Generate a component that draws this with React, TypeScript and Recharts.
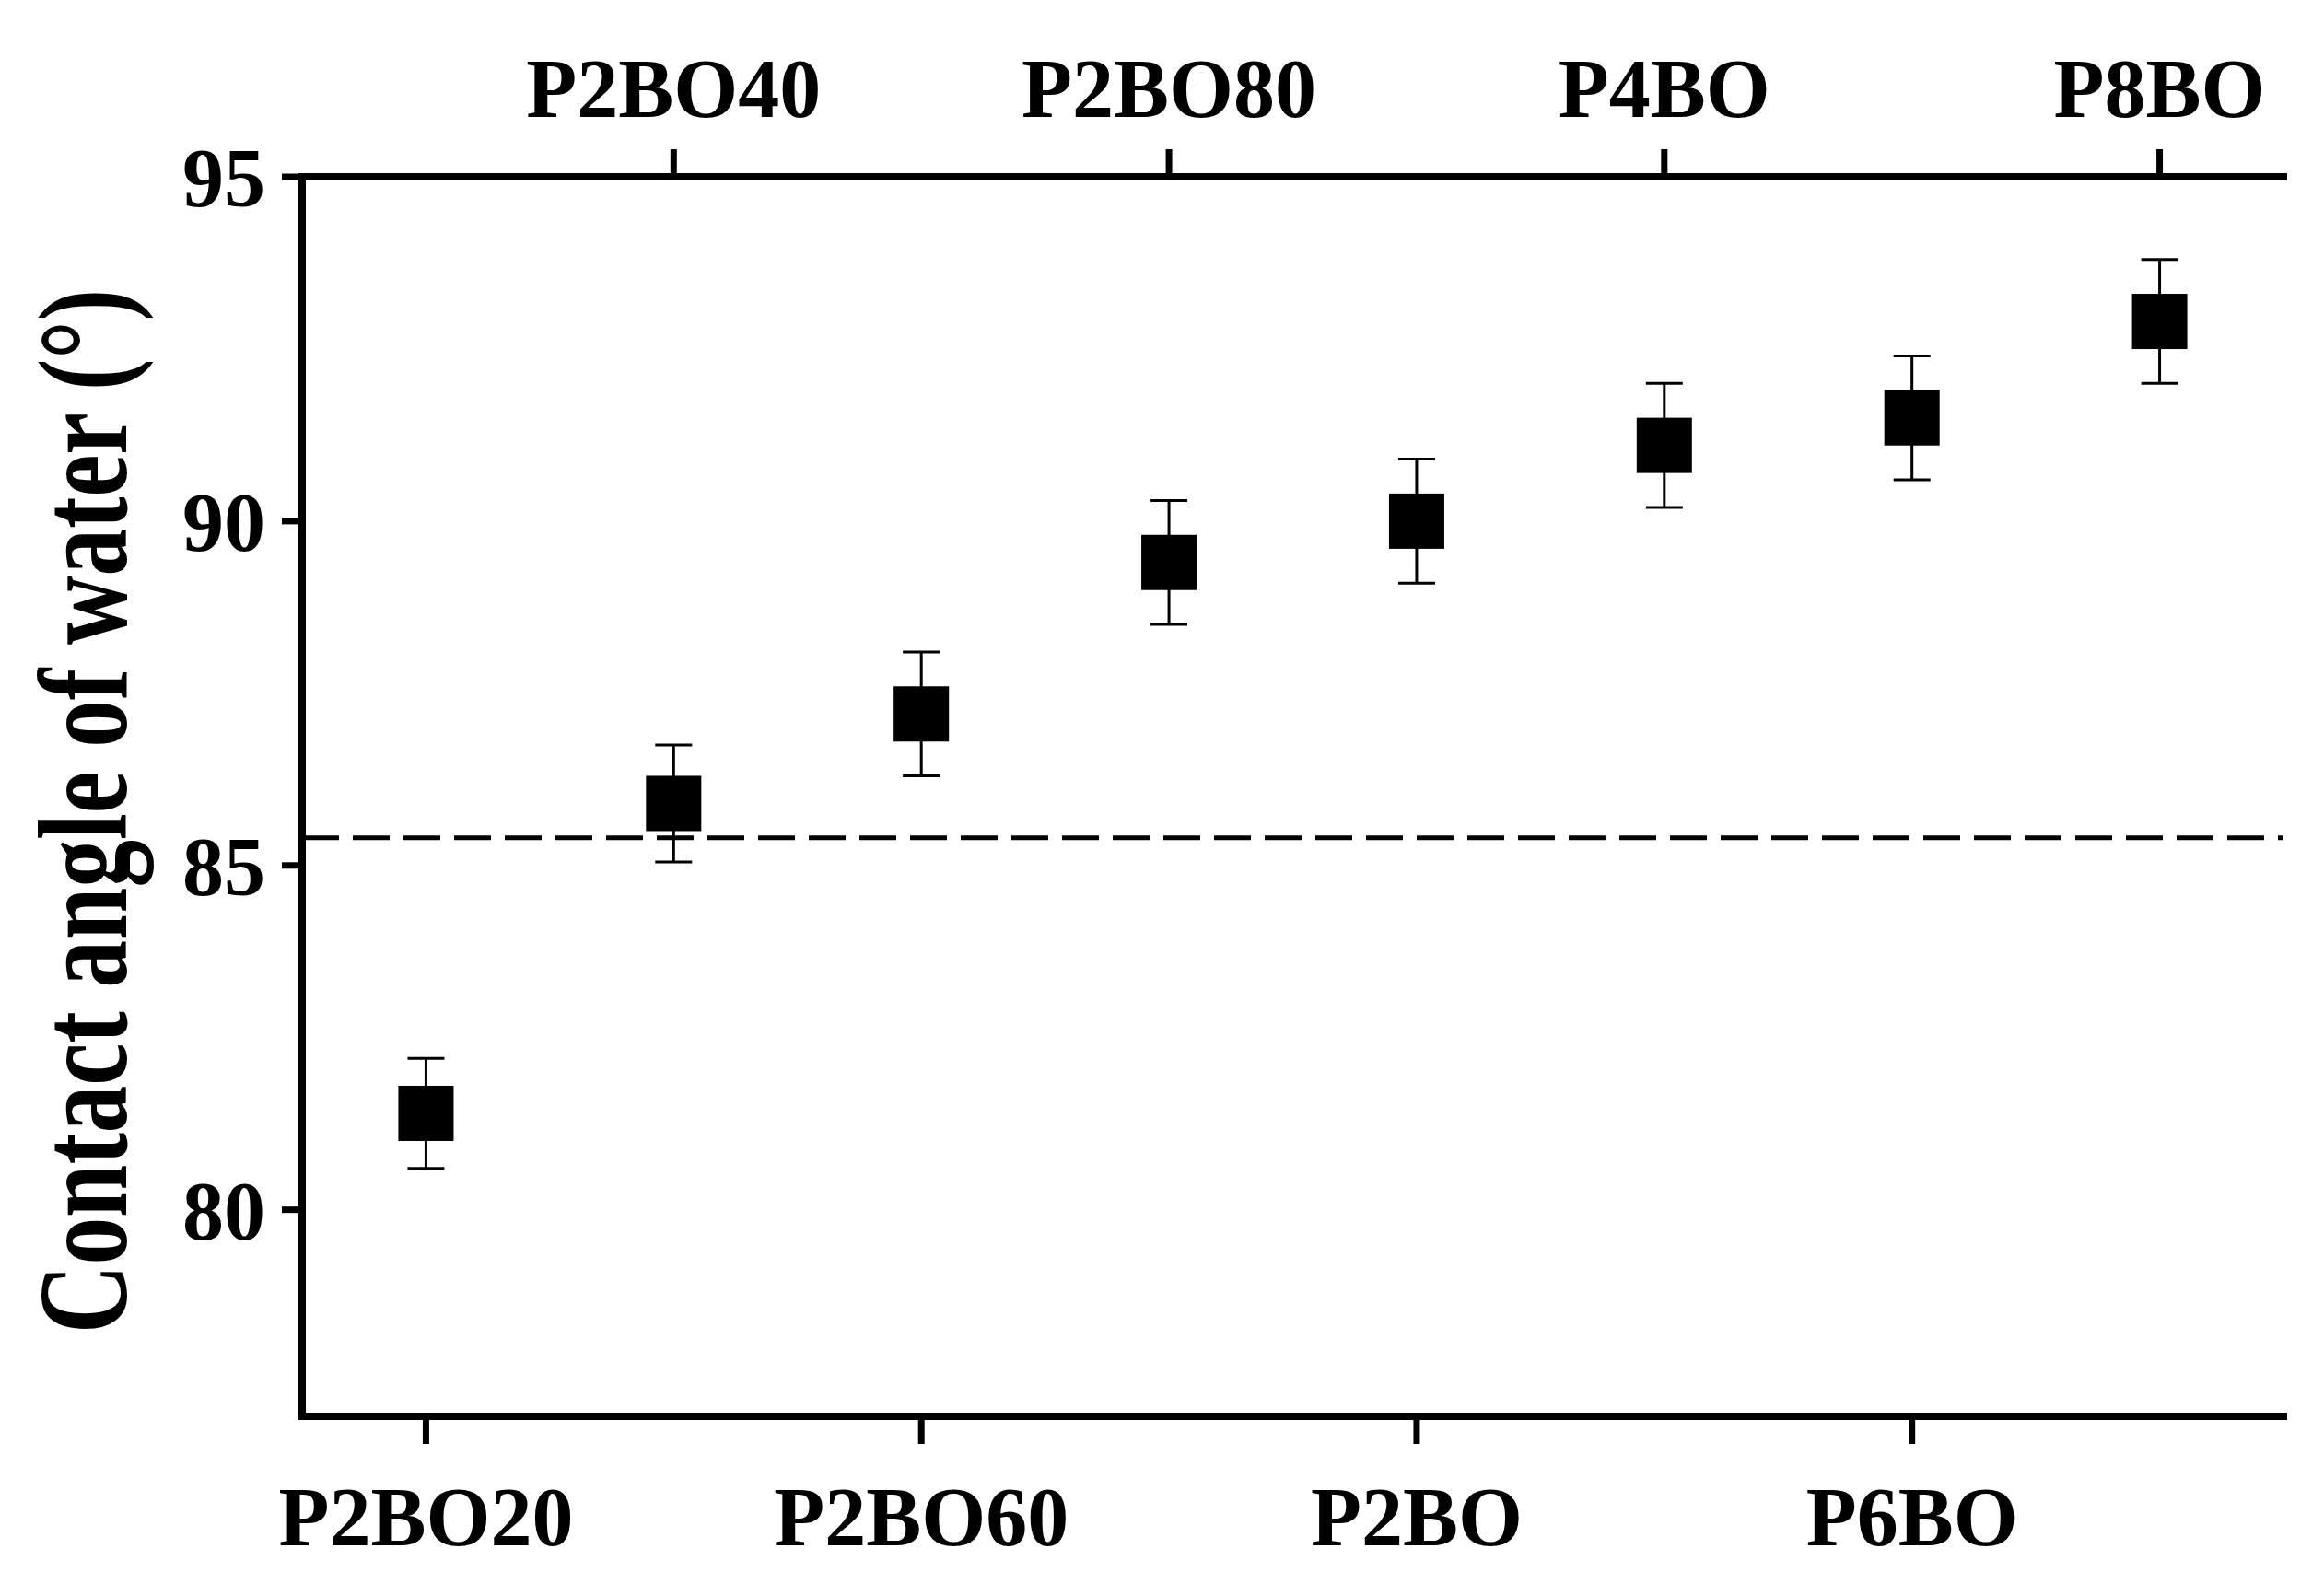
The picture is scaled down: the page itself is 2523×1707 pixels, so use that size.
import React from 'react';
import { ComposedChart, Scatter, XAxis, YAxis, ErrorBar, ReferenceLine } from 'recharts';

const samples = ['P2BO20', 'P2BO40', 'P2BO60', 'P2BO80', 'P2BO', 'P4BO', 'P6BO', 'P8BO'];
const contactAngle = [81.4, 85.9, 87.2, 89.4, 90.0, 91.1, 91.5, 92.9];
const angleError = [0.8, 0.85, 0.9, 0.9, 0.9, 0.9, 0.9, 0.9];
const yTicks = [80, 85, 90, 95];
const baseline = 85.4;

const data = samples.map((name, i) => ({
    pos: i + 1,
    name,
    value: contactAngle[i],
    err: angleError[i],
}));

const bottomTicks = data.filter((d) => d.pos % 2 === 1).map((d) => d.pos);
const topTicks = data.filter((d) => d.pos % 2 === 0).map((d) => d.pos);

const font = 'Liberation Serif, Times New Roman, serif';
const tickStyle = { fontSize: 90, fontWeight: 700, fontFamily: font, fill: '#000' };
const axisLine = { stroke: '#000', strokeWidth: 8, strokeLinecap: 'square' as const };
const tickLine = { stroke: '#000', strokeWidth: 7 };

const nameOf = (v: number) => samples[v - 1] ?? '';

const SquareMarker = (props: any) => {
    const { cx, cy } = props;
    if (cx == null || cy == null) return null;
    return <rect x={cx - 30} y={cy - 30} width={60} height={60} fill="#000" />;
};

const YLabel = () => (
    <text
        x={0}
        y={0}
        transform="translate(137, 881) rotate(-90)"
        textAnchor="middle"
        fontFamily={font}
        fontWeight={700}
        fontSize={138}
        textLength={1134}
        lengthAdjust="spacingAndGlyphs"
        fill="#000"
    >
        Contact angle of water (°)
    </text>
);

export default function App() {
    return (
        <div style={{ position: 'absolute', left: 0, top: 0, background: '#fff' }}>
            <ComposedChart
                width={2523}
                height={1707}
                data={data}
                margin={{ top: 92, right: 44, bottom: 49, left: 128 }}
            >
                <XAxis
                    xAxisId="bottom"
                    orientation="bottom"
                    type="number"
                    dataKey="pos"
                    domain={[0.5, 8.5]}
                    ticks={bottomTicks}
                    interval={0}
                    tickFormatter={nameOf}
                    height={120}
                    tickSize={30}
                    tickMargin={46}
                    axisLine={axisLine}
                    tickLine={tickLine}
                    tick={tickStyle}
                    allowDataOverflow
                />
                <XAxis
                    xAxisId="top"
                    orientation="top"
                    type="number"
                    dataKey="pos"
                    domain={[0.5, 8.5]}
                    ticks={topTicks}
                    interval={0}
                    tickFormatter={nameOf}
                    height={100}
                    tickSize={30}
                    tickMargin={35}
                    axisLine={axisLine}
                    tickLine={tickLine}
                    tick={tickStyle}
                    allowDataOverflow
                />
                <YAxis
                    yAxisId="left"
                    type="number"
                    domain={[77, 95]}
                    ticks={yTicks}
                    interval={0}
                    width={200}
                    tickSize={22}
                    tickMargin={18}
                    axisLine={axisLine}
                    tickLine={tickLine}
                    tick={tickStyle}
                    allowDataOverflow
                    label={{ content: () => <YLabel /> }}
                />
                <YAxis
                    yAxisId="right"
                    orientation="right"
                    type="number"
                    domain={[77, 95]}
                    width={0}
                    tick={false}
                    tickLine={false}
                    axisLine={axisLine}
                    allowDataOverflow
                />
                <ReferenceLine
                    xAxisId="bottom"
                    yAxisId="left"
                    y={baseline}
                    stroke="#000"
                    strokeWidth={5}
                    strokeDasharray="40 15"
                />
                <Scatter
                    xAxisId="bottom"
                    yAxisId="left"
                    dataKey="value"
                    fill="#000"
                    shape={SquareMarker}
                    isAnimationActive={false}
                >
                    <ErrorBar dataKey="err" direction="y" width={20} stroke="#000" strokeWidth={3} />
                </Scatter>
            </ComposedChart>
        </div>
    );
}
